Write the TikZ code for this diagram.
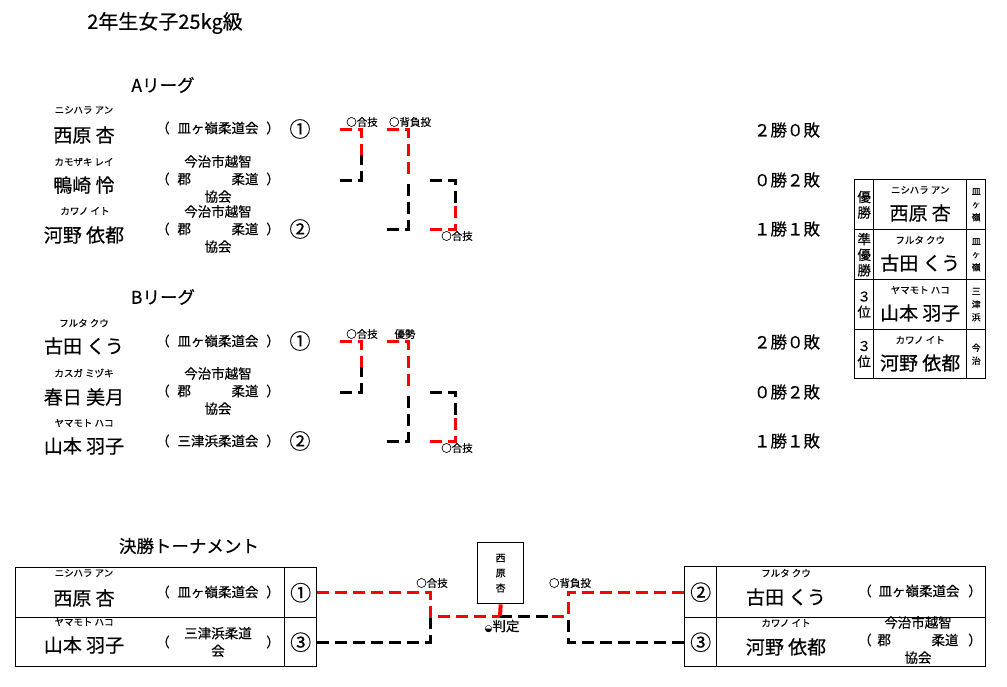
\documentclass[tikz,border=0pt]{standalone}
\usepackage{fontspec}
\setmainfont{Noto Sans CJK JP}[FakeBold=0.35]
\newfontfamily\symfont{DejaVu Sans}
\usepackage{tikz}
\usetikzlibrary{calc}
\definecolor{winred}{HTML}{FF0000}
\definecolor{ink}{HTML}{000000}
\tikzset{
  txt/.style={inner sep=0pt, align=center, text=ink},
  furi/.style={txt, font=\fontsize{9.5}{11}\selectfont},
  nm/.style={txt, font=\fontsize{19}{22}\selectfont},
  club/.style={txt, font=\fontsize{13.5}{17.5}\selectfont},
  seed/.style={txt, font=\fontsize{21}{22}\selectfont},
  res/.style={txt, font=\fontsize{16.5}{18}\selectfont},
  head/.style={txt, font=\fontsize{17.5}{20}\selectfont},
  tech/.style={txt, font=\fontsize{10.5}{12}\selectfont},
  rank/.style={align=center, font=\fontsize{13.5}{15.5}\selectfont},
  small/.style={align=center, font=\fontsize{9}{13}\selectfont},
  cell/.style={draw=ink, line width=1.4pt, rectangle, inner sep=0pt, anchor=north west},
  win/.style={draw=winred, line width=3pt, dash pattern=on 12pt off 6pt},
  lose/.style={draw=ink, line width=3pt, dash pattern=on 12pt off 6pt}
}
% one bout: #1 name, #2 x start, #3 x joint, #4 y top, #5 y bottom, #6/#7 top/bottom style
\newcommand{\bout}[7]{%
  \coordinate (#1t) at (#2,#4);
  \coordinate (#1b) at (#2,#5);
  \coordinate (#1j) at (#3,{(#4+#5)/2});
  \draw[#6] (#1t) -| (#1j);
  \draw[#7] (#1b) -| (#1j);
}

\begin{document}
\begin{tikzpicture}[x=1pt, y=-1pt]
  \useasboundingbox[fill=white] (0,0) rectangle (1007,686);
  \node[head, font=\fontsize{20}{22}\selectfont] (title) at (165,23) {2年生女子25kg級};

  % A league
  \node[head] (Ahd) at (163,85) {Aリーグ};
  \node[furi] (Af1) at (84,110) {ニシハラ アン};
  \node[nm]   (An1) at (84,135) {西原 杏};
  \node[club] (Ac1) at (218,128) {皿ヶ嶺柔道会};
  \node[club] (Al1) at (163,128) {（};
  \node[club] (Ar1) at (273,128) {）};
  \node[seed] (As1) at (300,129) {①};
  \node[furi] (Af2) at (84,162) {カモザキ レイ};
  \node[nm]   (An2) at (84,185) {鴨崎 怜};
  \node[club] (Ac2) at (218,179) {今治市越智\\郡\hspace{3em}柔道\\協会};
  \node[club] (Al2) at (163,179) {（};
  \node[club] (Ar2) at (273,179) {）};
  \node[furi] (Af3) at (85,211) {カワノ イト};
  \node[nm]   (An3) at (84,235) {河野 依都};
  \node[club] (Ac3) at (218,229) {今治市越智\\郡\hspace{3em}柔道\\協会};
  \node[club] (Al3) at (163,229) {（};
  \node[club] (Ar3) at (273,229) {）};
  \node[seed] (As3) at (300,229) {②};
  \node[res] (Ar1res) at (787,130) {２勝０敗};
  \node[res] (Ar2res) at (787,180) {０勝２敗};
  \node[res] (Ar3res) at (787,229) {１勝１敗};
  \bout{a1}{340}{361}{129}{180}{win}{lose}
  \bout{a2}{387}{408}{129}{229}{win}{lose}
  \bout{a3}{430}{455}{180}{229}{lose}{win}
  \node[tech] (a1w) at (362,122) {○合技};
  \node[tech] (a2w) at (410,122) {○背負投};
  \node[tech] (a3w) at (457,236) {○合技};

  % B league
  \node[head] (Bhd) at (163,297) {Bリーグ};
  \node[furi] (Bf1) at (84,323) {フルタ クウ};
  \node[nm]   (Bn1) at (84,346) {古田 くう};
  \node[club] (Bc1) at (218,341) {皿ヶ嶺柔道会};
  \node[club] (Bl1) at (163,341) {（};
  \node[club] (Br1) at (273,341) {）};
  \node[seed] (Bs1) at (300,341) {①};
  \node[furi] (Bf2) at (84,373) {カスガ ミヅキ};
  \node[nm]   (Bn2) at (84,397) {春日 美月};
  \node[club] (Bc2) at (218,391) {今治市越智\\郡\hspace{3em}柔道\\協会};
  \node[club] (Bl2) at (163,391) {（};
  \node[club] (Br2) at (273,391) {）};
  \node[furi] (Bf3) at (84,423) {ヤマモト ハコ};
  \node[nm]   (Bn3) at (84,446) {山本 羽子};
  \node[club] (Bc3) at (218,441) {三津浜柔道会};
  \node[club] (Bl3) at (163,441) {（};
  \node[club] (Br3) at (273,441) {）};
  \node[seed] (Bs3) at (300,441) {②};
  \node[res] (Br1res) at (787,342) {２勝０敗};
  \node[res] (Br2res) at (787,392) {０勝２敗};
  \node[res] (Br3res) at (787,441) {１勝１敗};
  \bout{b1}{340}{361}{341}{392}{win}{lose}
  \bout{b2}{387}{408}{341}{441}{win}{lose}
  \bout{b3}{430}{455}{392}{441}{lose}{win}
  \node[tech] (b1w) at (362,334) {○合技};
  \node[tech] (b2w) at (405,334) {優勢};
  \node[tech] (b3w) at (457,448) {○合技};

  % standings
  \node[cell, rank, minimum width=19pt, minimum height=50pt] (s1a) at (854,179) {優\\勝};
  \node[cell, minimum width=93pt, minimum height=50pt] (s1b) at (873,179) {};
  \node[cell, small, minimum width=19pt, minimum height=50pt] (s1c) at (966,179) {皿\\ヶ\\嶺};
  \node[cell, rank, minimum width=19pt, minimum height=50pt] (s2a) at (854,229) {準\\優\\勝};
  \node[cell, minimum width=93pt, minimum height=50pt] (s2b) at (873,229) {};
  \node[cell, small, minimum width=19pt, minimum height=50pt] (s2c) at (966,229) {皿\\ヶ\\嶺};
  \node[cell, rank, minimum width=19pt, minimum height=50pt] (s3a) at (854,279) {３\\位};
  \node[cell, minimum width=93pt, minimum height=50pt] (s3b) at (873,279) {};
  \node[cell, small, minimum width=19pt, minimum height=50pt] (s3c) at (966,279) {三\\津\\浜};
  \node[cell, rank, minimum width=19pt, minimum height=49pt] (s4a) at (854,329) {３\\位};
  \node[cell, minimum width=93pt, minimum height=49pt] (s4b) at (873,329) {};
  \node[cell, small, minimum width=19pt, minimum height=49pt] (s4c) at (966,329) {今\\治};
  \node[furi] (s1f) at ($(s1b.north)+(0,11)$) {ニシハラ アン};
  \node[nm]   (s1n) at ($(s1b.north)+(0,34)$) {西原 杏};
  \node[furi] (s2f) at ($(s2b.north)+(0,11)$) {フルタ クウ};
  \node[nm]   (s2n) at ($(s2b.north)+(0,34)$) {古田 くう};
  \node[furi] (s3f) at ($(s3b.north)+(0,11)$) {ヤマモト ハコ};
  \node[nm]   (s3n) at ($(s3b.north)+(0,34)$) {山本 羽子};
  \node[furi] (s4f) at ($(s4b.north)+(0,11)$) {カワノ イト};
  \node[nm]   (s4n) at ($(s4b.north)+(0,34)$) {河野 依都};

  % final tournament
  \node[head] (Fhd) at (189,546) {決勝トーナメント};
  \node[cell, minimum width=269pt, minimum height=50pt] (fL1) at (15,567) {};
  \node[cell, seed, minimum width=32pt, minimum height=50pt] (fN1) at (284,567) {①};
  \node[cell, minimum width=269pt, minimum height=49pt] (fL3) at (15,617) {};
  \node[cell, seed, minimum width=32pt, minimum height=49pt] (fN3) at (284,617) {③};
  \node[furi] (ff1) at (84,573) {ニシハラ アン};
  \node[nm]   (fn1) at (84,598) {西原 杏};
  \node[club] (fc1) at (218,592) {皿ヶ嶺柔道会};
  \node[club] (fl1) at (163,592) {（};
  \node[club] (fr1) at (273,592) {）};
  \node[furi] (ff3) at (84,622) {ヤマモト ハコ};
  \node[nm]   (fn3) at (84,645) {山本 羽子};
  \node[club] (fc3) at (218,642) {三津浜柔道\\会};
  \node[club] (fl3) at (163,642) {（};
  \node[club] (fr3) at (273,642) {）};

  \node[cell, seed, minimum width=32pt, minimum height=51pt] (gN2) at (684,566) {②};
  \node[cell, minimum width=269pt, minimum height=51pt] (gR2) at (716,566) {};
  \node[cell, seed, minimum width=32pt, minimum height=49pt] (gN3) at (684,617) {③};
  \node[cell, minimum width=269pt, minimum height=49pt] (gR3) at (716,617) {};
  \node[furi] (gf2) at (786,573) {フルタ クウ};
  \node[nm]   (gn2) at (786,597) {古田 くう};
  \node[club] (gc2) at (919,591) {皿ヶ嶺柔道会};
  \node[club] (gl2) at (865,591) {（};
  \node[club] (gr2) at (975,591) {）};
  \node[furi] (gf3) at (786,623) {カワノ イト};
  \node[nm]   (gn3) at (786,647) {河野 依都};
  \node[club] (gc3) at (918,640) {今治市越智\\郡\hspace{3em}柔道\\協会};
  \node[club] (gl3) at (865,640) {（};
  \node[club] (gr3) at (975,640) {）};

  \node[cell, small, font=\fontsize{10}{15}\selectfont, minimum width=46pt, minimum height=61pt] (champ) at (477,542) {西\\原\\杏};
  \coordinate (fJL) at (430,616);
  \coordinate (fJR) at (568,616);
  \coordinate (fC)  at (500,616);
  \coordinate (fCR) at (548,616);
  \draw[lose] (fC) -- (fCR);
  \draw[lose] (fN3.east) -| (fJL);
  \draw[win]  (fN1.east) -| (fJL) -- (fC);
  \draw[lose] (gN3.west) -| (fJR);
  \draw[win]  (gN2.west) -| (fJR) -- (fCR);
  \draw[draw=winred, line width=4pt] (champ.south) -- (fC);
  \node[tech] (fw1) at (432,583) {○合技};
  \node[tech] (fw2) at (570,583) {○背負投};
  \node[txt, font=\fontsize{13.5}{15}\selectfont] (fjd) at (502,626) {{\symfont\fontsize{9}{10}\selectfont ◒}判定};
\end{tikzpicture}
\end{document}
